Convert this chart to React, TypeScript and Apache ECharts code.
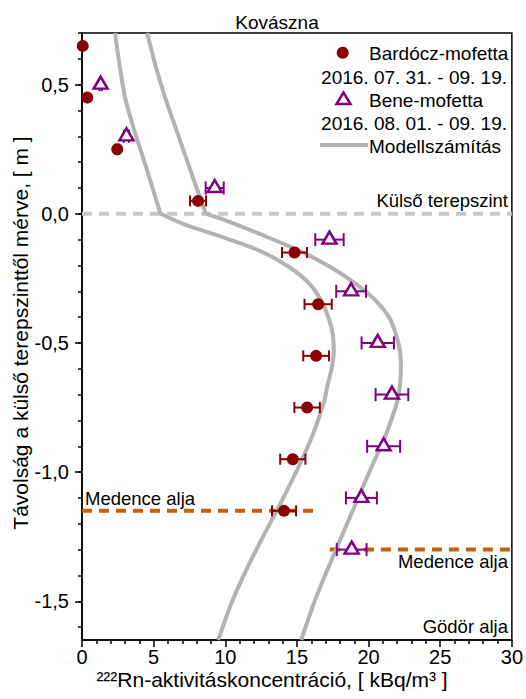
import React, { useEffect, useRef } from 'react';
import * as echarts from 'echarts';

// ---- data ----
const bardoczX = [0.05, 0.37, 2.46, 8.1, 14.83, 16.48, 16.34, 15.71, 14.71, 14.1];
const bardoczY = [0.65, 0.45, 0.25, 0.05, -0.15, -0.35, -0.55, -0.75, -0.95, -1.15];
const bardoczErr = [0, 0.02, 0.12, 0.56, 0.87, 0.95, 0.9, 0.89, 0.88, 0.84];

const beneX = [1.3, 3.1, 9.26, 17.27, 18.78, 20.64, 21.63, 21.05, 19.5, 18.82];
const beneY = [0.5, 0.3, 0.1, -0.1, -0.3, -0.5, -0.7, -0.9, -1.1, -1.3];
const beneErr = [0.08, 0.18, 0.63, 0.99, 1.04, 1.13, 1.14, 1.15, 1.08, 1.04];

const model1UpperX = [2.3, 2.6, 2.99, 3.64, 4.39, 5.12, 5.48];
const model1UpperY = [0.7, 0.584, 0.454, 0.324, 0.195, 0.065, 0];
const model1LowerX = [5.48, 7.05, 9.14, 12.4, 14.5, 15.9, 16.7, 17.2, 17.5, 17.57, 17.43, 17.15, 16.9, 16.1, 15.06, 13.9, 12.68, 11.5, 10.45, 9.5];
const model1LowerY = [0, -0.039, -0.078, -0.143, -0.208, -0.272, -0.337, -0.402, -0.467, -0.532, -0.597, -0.661, -0.726, -0.856, -0.986, -1.116, -1.245, -1.375, -1.505, -1.65];

const model2UpperX = [4.55, 5.08, 5.78, 6.59, 7.4, 8.22, 8.65];
const model2UpperY = [0.7, 0.584, 0.454, 0.324, 0.195, 0.065, 0];
const model2LowerX = [8.65, 10.07, 12.4, 15.18, 17.39, 19.13, 20.52, 21.45, 21.91, 22.19, 22.26, 22.19, 22.0, 21.2, 20.16, 19.15, 18.15, 17.15, 16.2, 15.3];
const model2LowerY = [0, -0.026, -0.078, -0.143, -0.208, -0.272, -0.337, -0.402, -0.467, -0.532, -0.597, -0.661, -0.726, -0.856, -0.986, -1.116, -1.245, -1.375, -1.505, -1.65];

const groundLineX = [0, 30];
const groundLineY = [0, 0];
const basinLeftX = [0, 16.3];
const basinLeftY = [-1.15, -1.15];
const basinRightX = [17.3, 30];
const basinRightY = [-1.3, -1.3];

const yMajorTicks = [-1.5, -1.0, -0.5, 0.0, 0.5];
const yMinorTicks = [-1.6, -1.5, -1.4, -1.3, -1.2, -1.1, -1.0, -0.9, -0.8, -0.7, -0.6, -0.5, -0.4, -0.3, -0.2, -0.1, 0.0, 0.1, 0.2, 0.3, 0.4, 0.5, 0.6, 0.7];

const FONT = "'Liberation Sans', Arial, sans-serif";
const RED = '#8b0000';
const PURPLE = '#800080';
const GRAY = '#b3b3b3';
const ORANGE = '#c4600f';

const zip = (xs: number[], ys: number[]) => xs.map((x, i) => [x, ys[i]]);
const zip3 = (xs: number[], ys: number[], es: number[]) => xs.map((x, i) => [x, ys[i], es[i]]);

const errRender = (color: string, cap: number) => (params: any, api: any) => {
  const x = api.value(0);
  const y = api.value(1);
  const e = api.value(2);
  const p1 = api.coord([x - e, y]);
  const p2 = api.coord([x + e, y]);
  const style = { stroke: color, lineWidth: 2 };
  return {
    type: 'group',
    children: [
      { type: 'line', shape: { x1: p1[0], y1: p1[1], x2: p2[0], y2: p2[1] }, style },
      { type: 'line', shape: { x1: p1[0], y1: p1[1] - cap, x2: p1[0], y2: p1[1] + cap }, style },
      { type: 'line', shape: { x1: p2[0], y1: p2[1] - cap, x2: p2[0], y2: p2[1] + cap }, style },
    ],
  };
};

const modelLine = (data: number[][]) => ({
  type: 'line',
  data,
  showSymbol: false,
  symbol: 'none',
  smooth: 0.25,
  lineStyle: { color: GRAY, width: 4 },
  z: 3,
  silent: true,
});

const dashedLine = (data: number[][], color: string) => ({
  type: 'line',
  data,
  showSymbol: false,
  symbol: 'none',
  lineStyle: { color, width: 4, type: [10, 7] },
  z: 2,
  silent: true,
});

const txt = (text: string, x: number, y: number, align: string, size: number, extra: any = {}) => ({
  type: 'text',
  x,
  y,
  z: 20,
  style: {
    text,
    fill: '#000',
    fontSize: size,
    fontFamily: FONT,
    textAlign: align,
    textVerticalAlign: 'middle',
  },
  ...extra,
});

export default function App() {
  const ref = useRef<HTMLDivElement>(null);
  useEffect(() => {
    if (!ref.current) return;
    const chart = echarts.init(ref.current, undefined, { renderer: 'svg' });
    const option: any = {
      animation: false,
      backgroundColor: '#fff',
      grid: {
        left: 82,
        right: 13,
        top: 33,
        bottom: 59,
        show: true,
        borderColor: '#000',
        borderWidth: 1.5,
        backgroundColor: 'transparent',
      },
      xAxis: {
        type: 'value',
        min: 0,
        max: 30,
        interval: 5,
        axisLine: { show: true, onZero: false, lineStyle: { color: '#000', width: 1.5 } },
        axisTick: { show: true, inside: false, length: 7, lineStyle: { color: '#000', width: 1.5 } },
        minorTick: { show: true, splitNumber: 5, length: 4, lineStyle: { color: '#000', width: 1.5 } },
        axisLabel: { fontSize: 20, fontFamily: FONT, color: '#000', margin: 7 },
        splitLine: { show: false },
        minorSplitLine: { show: false },
      },
      yAxis: [
        {
          type: 'value',
          min: -1.65,
          max: 0.7,
          position: 'left',
          offset: 0,
          axisLine: { show: true, onZero: false, lineStyle: { color: '#000', width: 1.5 } },
          axisTick: { show: true, inside: false, length: 7, customValues: yMajorTicks, lineStyle: { color: '#000', width: 1.5 } },
          axisLabel: {
            fontSize: 20,
            fontFamily: FONT,
            color: '#000',
            margin: 13,
            customValues: yMajorTicks,
            formatter: (v: number) => (Math.abs(v) < 1e-9 ? '0,0' : v.toFixed(1).replace('.', ',')),
          },
          splitLine: { show: false },
        },
        {
          type: 'value',
          min: -1.65,
          max: 0.7,
          position: 'left',
          offset: 0,
          axisLine: { show: false, onZero: false },
          axisTick: { show: true, inside: false, length: 4, customValues: yMinorTicks, lineStyle: { color: '#000', width: 1.5 } },
          axisLabel: { show: false },
          splitLine: { show: false },
        },
      ],
      series: [
        dashedLine(zip(groundLineX, groundLineY), '#c8c8c8'),
        dashedLine(zip(basinLeftX, basinLeftY), ORANGE),
        dashedLine(zip(basinRightX, basinRightY), ORANGE),
        modelLine(zip(model1UpperX, model1UpperY)),
        modelLine(zip(model1LowerX, model1LowerY)),
        modelLine(zip(model2UpperX, model2UpperY)),
        modelLine(zip(model2LowerX, model2LowerY)),
        {
          type: 'custom',
          data: zip3(bardoczX, bardoczY, bardoczErr),
          dimensions: ['x', 'y', 'err'],
          encode: { x: 0, y: 1 },
          renderItem: errRender(RED, 5.5),
          z: 4,
          silent: true,
        },
        {
          type: 'custom',
          data: zip3(beneX, beneY, beneErr),
          dimensions: ['x', 'y', 'err'],
          encode: { x: 0, y: 1 },
          renderItem: errRender(PURPLE, 6.5),
          z: 4,
          silent: true,
        },
        {
          type: 'scatter',
          data: zip(bardoczX, bardoczY),
          symbol: 'circle',
          symbolSize: 12,
          itemStyle: { color: RED, opacity: 1 },
          z: 5,
          clip: false,
        },
        {
          type: 'scatter',
          data: zip(beneX, beneY),
          symbol: 'triangle',
          symbolSize: [14, 12],
          symbolOffset: [0, -2],
          itemStyle: { color: '#fff', borderColor: PURPLE, borderWidth: 2.5, opacity: 1 },
          z: 5,
          clip: false,
        },
      ],
      graphic: [
        txt('Kovászna', 277, 22, 'center', 19),
        // legend
        { type: 'circle', shape: { cx: 342.7, cy: 52.7, r: 6 }, style: { fill: RED }, z: 20 },
        txt('Bardócz-mofetta', 369, 53, 'left', 19),
        txt('2016. 07. 31. - 09. 19.', 507, 77, 'right', 19),
        {
          type: 'polygon',
          shape: { points: [[343.5, 92.5], [336.5, 104], [350.5, 104]] },
          style: { fill: '#fff', stroke: PURPLE, lineWidth: 2.5 },
          z: 20,
        },
        txt('Bene-mofetta', 369, 100, 'left', 19),
        txt('2016. 08. 01. - 09. 19.', 507, 123, 'right', 19),
        { type: 'line', shape: { x1: 320, y1: 145, x2: 368, y2: 145 }, style: { stroke: GRAY, lineWidth: 4 }, z: 20 },
        txt('Modellszámítás', 369, 146, 'left', 19),
        // annotations
        txt('Külső terepszint', 508, 200, 'right', 18.5),
        txt('Medence alja', 85, 498, 'left', 18.5),
        txt('Medence alja', 508, 561, 'right', 18.5),
        txt('Gödör alja', 508, 626, 'right', 18.5),
        // axis titles
        txt('²²²Rn-aktivitáskoncentráció, [ kBq/m³ ]', 272, 679, 'center', 21),
        txt('Távolság a külső terepszinttől mérve, [ m ]', 20, 333, 'center', 21, { rotation: Math.PI / 2 }),
      ],
    };
    chart.setOption(option);
    return () => chart.dispose();
  }, []);
  return (
    <div
      ref={ref}
      style={{ position: 'fixed', left: 0, top: 0, width: 526, height: 699, background: '#fff' }}
    />
  );
}
